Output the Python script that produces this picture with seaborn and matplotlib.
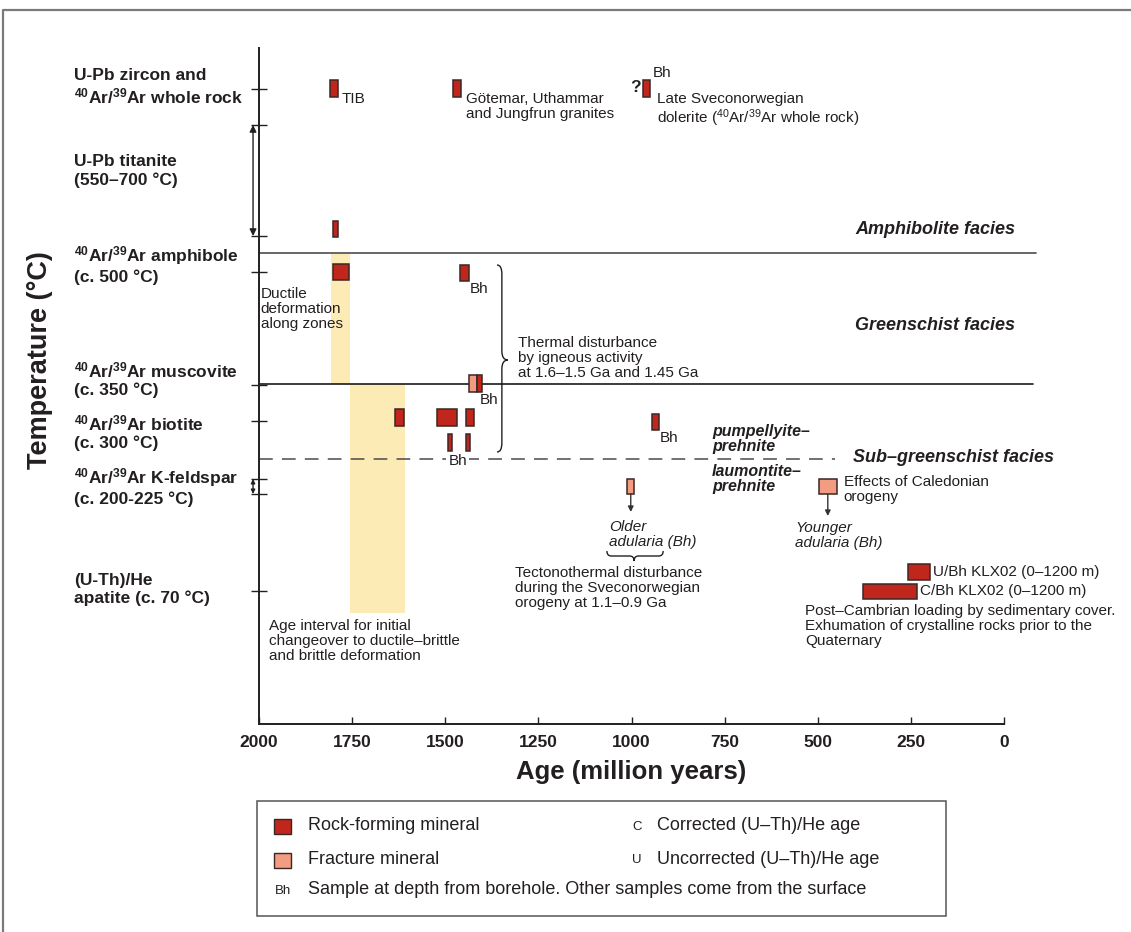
import numpy as np
import pandas as pd
import seaborn as sns
import matplotlib.pyplot as plt
from matplotlib.patches import Rectangle, PathPatch
from matplotlib.path import Path
from matplotlib.lines import Line2D
from matplotlib.transforms import blended_transform_factory

sns.set_theme(style="ticks")
plt.rcParams['font.family'] = ['Liberation Sans', 'DejaVu Sans']
plt.rcParams['mathtext.fontset'] = 'custom'
plt.rcParams['mathtext.rm'] = 'Liberation Sans'
plt.rcParams['mathtext.it'] = 'Liberation Sans:italic'
plt.rcParams['mathtext.bf'] = 'Liberation Sans:bold'

# ---- dated samples: age span (Ma) and vertical extent on the closure scale
box_old = [1809, 1479, 969, 1801, 1801, 1460, 1436, 1415,
           1635, 1522, 1444, 945, 1493, 1444, 1012, 497, 258, 378]
box_young = [1788, 1458, 950, 1788, 1758, 1436, 1415, 1401,
             1611, 1468, 1423, 926, 1482, 1434, 993, 449, 199, 233]
box_low = [627, 627, 627, 487, 444, 443, 332, 332,
           298, 298, 298, 294, 273, 273, 230, 230, 144, 125]
box_high = [644, 644, 644, 503, 460, 459, 349, 349,
            315, 315, 315, 310, 290, 290, 245, 245, 160, 140]
box_kind = (['rock'] * 6 + ['fracture', 'rock'] + ['rock'] * 6
            + ['fracture', 'fracture', 'rock', 'rock'])

# ---- deformation age intervals (yellow bands)
band_old = [1807, 1756]
band_young = [1756, 1608]
band_low = [340, 111]
band_high = [471, 340]

# ---- closure-temperature levels on the vertical axis
ARAR_B = r"$^{\mathbf{40}}$Ar/$^{\mathbf{39}}$Ar"
level_labels = ["U-Pb zircon and\n" + ARAR_B + " whole rock",
                "U-Pb titanite\n(550–700 °C)",
                ARAR_B + " amphibole\n(c. 500 °C)",
                ARAR_B + " muscovite\n(c. 350 °C)",
                ARAR_B + " biotite\n(c. 300 °C)",
                ARAR_B + " K-feldspar\n(c. 200-225 °C)",
                "(U-Th)/He\napatite (c. 70 °C)"]
level_label_pos = [637, 553, 459.5, 345, 292, 237, 134.5]
level_ticks = [635, 599, 488, 452, 339, 303, 245, 230, 133]

age_ticks = [2000, 1750, 1500, 1250, 1000, 750, 500, 250, 0]

# facies boundaries
amph_green = 471
green_sub = 340
pump_laum = 265

RED = '#C0261C'
SALMON = '#F29C82'
EDGE = '#3A2623'
YELLOW = '#FDEBB6'
INK = '#231F20'

df = pd.DataFrame(dict(old=box_old, young=box_young, low=box_low,
                       high=box_high, kind=box_kind))

W, H = 1131, 932
fig = plt.figure(figsize=(W / 100, H / 100), dpi=100)
fig.patch.set_facecolor('white')


def fx(px):
    return px / W


def fy(py):
    return 1 - py / H


ax = fig.add_axes([fx(259), fy(724), fx(1004) - fx(259), fy(48) - fy(724)])
ax.set_facecolor('white')
ax.set_xlim(2000, 0)
ax.set_ylim(0, 676)

# yellow deformation bands
ax.bar(x=[(o + y) / 2 for o, y in zip(band_old, band_young)],
       width=[o - y for o, y in zip(band_old, band_young)],
       bottom=band_low,
       height=[h - l for h, l in zip(band_high, band_low)],
       color=YELLOW, edgecolor='none', zorder=1)

# facies boundaries
ax.plot([2000, -86], [amph_green] * 2, color='#5a5a5a', lw=1.3, clip_on=False, zorder=2)
ax.plot([2000, -78], [green_sub] * 2, color='#1a1a1a', lw=1.2, clip_on=False, zorder=2)
ax.plot([2000, 454], [pump_laum] * 2, color='#4a4a4a', lw=1.1,
        linestyle=(0, (9, 6)), clip_on=False, zorder=2)

# age boxes
colors = {'rock': RED, 'fracture': SALMON}
for kind, sub in df.groupby('kind'):
    ax.bar(x=(sub['old'] + sub['young']) / 2, width=sub['old'] - sub['young'],
           bottom=sub['low'], height=sub['high'] - sub['low'],
           color=colors[kind], edgecolor=EDGE, linewidth=1.1, zorder=4)

# axes styling
sns.despine(ax=ax, top=True, right=True)
for s in ['left', 'bottom']:
    ax.spines[s].set_color(INK)
    ax.spines[s].set_linewidth(1.4)
ax.set_xticks(age_ticks)
ax.set_xticklabels([str(a) for a in age_ticks], fontsize=12.5, fontweight='bold', color=INK)
ax.tick_params(axis='x', direction='in', length=5, width=1, color=INK, pad=8)
ax.set_yticks(level_ticks)
ax.set_yticklabels([])
ax.tick_params(axis='y', direction='inout', length=11.5, width=1, color=INK)
ax.set_xlabel('Age (million years)', fontsize=18.5, fontweight='bold', color=INK, labelpad=7)

tr_fig_data = blended_transform_factory(fig.transFigure, ax.transData)
for lab, yv in zip(level_labels, level_label_pos):
    ax.text(fx(74), yv, lab, transform=tr_fig_data, fontsize=12.5, fontweight='bold',
            color=INK, ha='left', va='center', linespacing=1.2, clip_on=False)

fig.text(fx(40), fy(360), 'Temperature (°C)', rotation=90, fontsize=19.5,
         fontweight='bold', color=INK, ha='center', va='center')

# double-headed range arrows beside the vertical axis
for y0, y1, ms in [(599, 488, 10), (245, 230, 6)]:
    ax.annotate('', xy=(2016, y1), xytext=(2016, y0),
                arrowprops=dict(arrowstyle='<|-|>', color=INK, lw=1, mutation_scale=ms,
                                shrinkA=0, shrinkB=0), annotation_clip=False)

# annotations
TXT = dict(fontsize=11, color=INK)
LS = 1.1
ax.text(1777, 625, 'TIB', ha='left', va='center', **TXT)
ax.text(1444, 632, 'Götemar, Uthammar\nand Jungfrun granites', ha='left', va='top',
        linespacing=LS, **TXT)
ax.text(988, 636, '?', ha='center', va='center', fontsize=12.5, fontweight='bold', color=INK)
ax.text(942, 651, 'Bh', ha='left', va='center', **TXT)
ax.text(931, 632, 'Late Sveconorwegian\ndolerite ($^{40}$Ar/$^{39}$Ar whole rock)',
        ha='left', va='top', linespacing=LS, **TXT)
ax.text(1434, 435, 'Bh', ha='left', va='center', **TXT)
ax.text(1995, 437, 'Ductile\ndeformation\nalong zones', ha='left', va='top', linespacing=LS, **TXT)
ax.text(1305, 388, 'Thermal disturbance\nby igneous activity\nat 1.6–1.5 Ga and 1.45 Ga',
        ha='left', va='top', linespacing=LS, **TXT)
ax.text(1407, 324, 'Bh', ha='left', va='center', **TXT)
ax.text(923, 286, 'Bh', ha='left', va='center', **TXT)
ax.text(1466, 263, 'Bh', ha='center', va='center', zorder=3,
        bbox=dict(facecolor='white', edgecolor='none', pad=1.5), **TXT)

FAC = dict(fontsize=13, fontweight='bold', fontstyle='italic', color=INK, clip_on=False)
ax.text(-30, 495, 'Amphibolite facies', ha='right', va='center', **FAC)
ax.text(-30, 398, 'Greenschist facies', ha='right', va='center', **FAC)
ax.text(405, 266, 'Sub–greenschist facies', ha='left', va='center', **FAC)
SUBF = dict(fontsize=11.5, fontweight='bold', fontstyle='italic', color=INK, linespacing=0.95)
ax.text(784, 285, 'pumpellyite–\nprehnite', ha='left', va='center', **SUBF)
ax.text(784, 245, 'laumontite–\nprehnite', ha='left', va='center', **SUBF)

# arrows from fracture minerals to adularia notes
for age_c, y_top, y_end in [(1002, 230, 212), (473, 230, 208)]:
    ax.annotate('', xy=(age_c, y_end), xytext=(age_c, y_top),
                arrowprops=dict(arrowstyle='-|>', color='#333333', lw=1, mutation_scale=8,
                                shrinkA=0, shrinkB=0))

ITL = dict(fontsize=11, fontstyle='italic', color=INK, linespacing=LS)
ax.text(1060, 204, 'Older\nadularia (Bh)', ha='left', va='top', **ITL)
ax.text(561, 203, 'Younger\nadularia (Bh)', ha='left', va='top', **ITL)
ax.text(430, 249, 'Effects of Caledonian\norogeny', ha='left', va='top', linespacing=LS, **TXT)
ax.text(1313, 158, 'Tectonothermal disturbance\nduring the Sveconorwegian\norogeny at 1.1–0.9 Ga',
        ha='left', va='top', linespacing=LS, **TXT)
ax.text(191, 152, 'U/Bh KLX02 (0–1200 m)', ha='left', va='center', **TXT)
ax.text(226, 133, 'C/Bh KLX02 (0–1200 m)', ha='left', va='center', **TXT)
ax.text(534, 120, 'Post–Cambrian loading by sedimentary cover.\n'
        'Exhumation of crystalline rocks prior to the\nQuaternary',
        ha='left', va='top', linespacing=LS, **TXT)
ax.text(1973, 105, 'Age interval for initial\nchangeover to ductile–brittle\nand brittle deformation',
        ha='left', va='top', linespacing=LS, **TXT)

# curly braces
C3, L, M = Path.CURVE3, Path.LINETO, Path.MOVETO


def vbrace(x_open, x_stem, x_tip, y_top, y_bot, y_mid, r):
    verts = [(x_open, y_top), (x_stem, y_top), (x_stem, y_top - r),
             (x_stem, y_mid + r), (x_stem, y_mid), (x_tip, y_mid),
             (x_stem, y_mid), (x_stem, y_mid - r),
             (x_stem, y_bot + r), (x_stem, y_bot), (x_open, y_bot)]
    codes = [M, C3, C3, L, C3, C3, C3, C3, L, C3, C3]
    ax.add_patch(PathPatch(Path(verts, codes), fill=False, edgecolor=INK, lw=1))


def hbrace(x_left, x_right, x_mid, y_open, y_stem, y_tip, r):
    verts = [(x_left, y_open), (x_left, y_stem), (x_left - r, y_stem),
             (x_mid + r, y_stem), (x_mid, y_stem), (x_mid, y_tip),
             (x_mid, y_stem), (x_mid - r, y_stem),
             (x_right + r, y_stem), (x_right, y_stem), (x_right, y_open)]
    codes = [M, C3, C3, L, C3, C3, C3, C3, L, C3, C3]
    ax.add_patch(PathPatch(Path(verts, codes), fill=False, edgecolor=INK, lw=1))


vbrace(1361, 1348, 1332, 459, 272, 364, 9)
hbrace(1066, 915, 993, 173, 168, 163, 12)

# outer frame
fig.add_artist(Line2D([fx(3), fx(3), fx(1131)], [fy(932), fy(10), fy(10)],
                      color='#7a7a7a', lw=1.6))

# key box
fig.add_artist(Rectangle((fx(257), fy(916)), fx(946) - fx(257), fy(801) - fy(916),
                         fill=False, edgecolor='#555555', lw=1.1))
fig.add_artist(Rectangle((fx(274), fy(834)), fx(17), fy(0) - fy(15),
                         facecolor=RED, edgecolor=EDGE, lw=1))
fig.add_artist(Rectangle((fx(274), fy(868)), fx(17), fy(0) - fy(15),
                         facecolor=SALMON, edgecolor=EDGE, lw=1))
KEY = dict(fontsize=13, color=INK, ha='left', va='center')
fig.text(fx(308), fy(825), 'Rock-forming mineral', **KEY)
fig.text(fx(308), fy(860), 'Fracture mineral', **KEY)
fig.text(fx(308), fy(890), 'Sample at depth from borehole. Other samples come from the surface', **KEY)
fig.text(fx(657), fy(825), 'Corrected (U–Th)/He age', **KEY)
fig.text(fx(657), fy(859), 'Uncorrected (U–Th)/He age', **KEY)
SMALL = dict(fontsize=9.5, color=INK, ha='left', va='center')
fig.text(fx(275), fy(891), 'Bh', **SMALL)
fig.text(fx(632), fy(827), 'C', **SMALL)
fig.text(fx(632), fy(860), 'U', **SMALL)

fig.savefig('out.png', dpi=100, facecolor='white')
